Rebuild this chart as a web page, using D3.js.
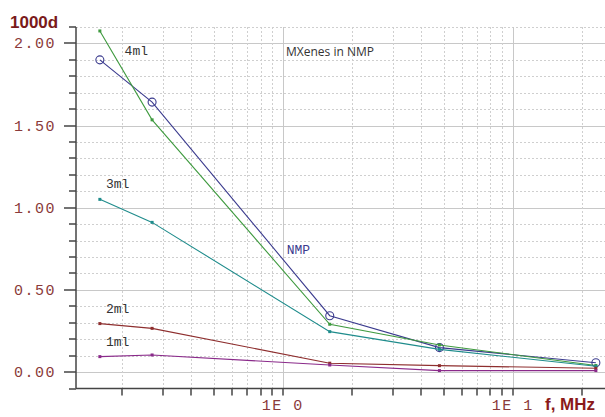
<!DOCTYPE html>
<meta charset="utf-8">
<html>
  <style>
    body, html{ margin: 0; background: #fff;}
    .grid line{ stroke: #cfcfcf; stroke-width: 1; stroke-dasharray: 2,2; }
    .grid line.major{ stroke: #c8c8c8; stroke-dasharray: none; }
    .axis line, .axis path{ stroke: #444; stroke-width: 1.5; fill: none; }
    .ticklab{ font-family: "Liberation Mono", monospace; font-size: 15px; fill: #8b3a3a; letter-spacing: 1.5px; }
    .lab{ font-family: "Liberation Mono", monospace; font-size: 13px; fill: #333; }
    .series{ fill: none; stroke-width: 1.1; }
  </style>
  <body>
    <svg></svg>
    <script src="https://cdn.jsdelivr.net/npm/d3@7"></script>
    <script>
var freq = [0.16, 0.27, 1.6, 4.8, 23]
var nmp  = [1.90, 1.643, 0.343, 0.149, 0.057]
var ml4  = [2.076, 1.535, 0.291, 0.165, 0.04]
var ml3  = [1.051, 0.911, 0.246, 0.138, 0.035]
var ml2  = [0.295, 0.266, 0.054, 0.039, 0.023]
var ml1  = [0.094, 0.104, 0.043, 0.009, 0.009]
var yTicks = [0, 0.5, 1, 1.5, 2]
var yTickLabels = ['0.00', '0.50', '1.00', '1.50', '2.00']
var xTicks = [1, 10]
var xTickLabels = ['1E 0', '1E 1']

var w = 605, h = 417
  , svg = d3.select('svg').attr('width', w).attr('height', h)
  , pL = 76, pR = 605, pT = 27, pB = 388.5

var x = d3.scaleLog().domain([0.126, 25.2]).range([pL, pR])
  , y = d3.scaleLinear().domain([-0.1, 2.1]).range([pB, pT])

// minor positions
var xMinor = [0.2,0.3,0.4,0.5,0.6,0.7,0.8,0.9,1,2,3,4,5,6,7,8,9,10,20]
  , yMinor = d3.range(-1, 22).map(function(d){ return d / 10 })
  , isMajorY = function(v){ return yTicks.some(function(t){ return Math.abs(t - v) < 1e-6 }) }

var grid = svg.append('g').attr('class', 'grid')
grid.selectAll('.gy').data(yMinor.filter(function(v){ return v > -0.05 })).enter().append('line')
  .attr('class', function(d){ return isMajorY(d) ? 'major' : '' })
  .attr('x1', pL).attr('x2', pR)
  .attr('y1', function(d){ return Math.round(y(d)) + 0.5 })
  .attr('y2', function(d){ return Math.round(y(d)) + 0.5 })
grid.selectAll('.gx').data(xMinor).enter().append('line')
  .attr('class', function(d){ return xTicks.indexOf(d) >= 0 ? 'major' : '' })
  .attr('y1', pT).attr('y2', pB)
  .attr('x1', function(d){ return Math.round(x(d)) + 0.5 })
  .attr('x2', function(d){ return Math.round(x(d)) + 0.5 })

// axes
var ax = svg.append('g').attr('class', 'axis')
ax.append('line').attr('x1', pL).attr('x2', pL).attr('y1', pT).attr('y2', pB)
ax.append('line').attr('x1', pL).attr('x2', pR).attr('y1', pB).attr('y2', pB)
ax.selectAll('.ty').data(yMinor).enter().append('line')
  .attr('x1', function(d){ return isMajorY(d) ? pL - 12 : pL - 7 }).attr('x2', pL)
  .attr('y1', function(d){ return Math.round(y(d)) }).attr('y2', function(d){ return Math.round(y(d)) })
ax.selectAll('.tx').data(xMinor).enter().append('line')
  .attr('y1', pB).attr('y2', pB + 7)
  .attr('x1', function(d){ return Math.round(x(d)) }).attr('x2', function(d){ return Math.round(x(d)) })

svg.selectAll('.yl').data(yTicks).enter().append('text')
  .attr('class', 'ticklab').attr('text-anchor', 'end')
  .attr('x', 56).attr('y', function(d){ return y(d) + 5 })
  .text(function(d, i){ return yTickLabels[i] })
svg.selectAll('.xl').data(xTicks).enter().append('text')
  .attr('class', 'ticklab').attr('text-anchor', 'middle')
  .attr('x', function(d){ return x(d) }).attr('y', 410)
  .text(function(d, i){ return xTickLabels[i] })

svg.append('text').attr('x', 10).attr('y', 28)
  .style('font', 'bold 17px "Liberation Sans", Arial, sans-serif').style('fill', '#7a1a1a')
  .text('1000d')
svg.append('text').attr('x', 545).attr('y', 410)
  .style('font', 'bold 17px "Liberation Sans", Arial, sans-serif').style('fill', '#8b1a1a')
  .text('f, MHz')
svg.append('text').attr('x', 286).attr('y', 56)
  .style('font', '12px "Open Sans", sans-serif').style('fill', '#333')
  .text('MXenes in NMP')

// series
var series = [
  { name: 'NMP', vals: nmp, color: '#3b3b8e', mark: 'circle' },
  { name: '4ml', vals: ml4, color: '#3f9a3f', mark: 'square' },
  { name: '3ml', vals: ml3, color: '#1f8c8c', mark: 'square' },
  { name: '2ml', vals: ml2, color: '#8e2e2e', mark: 'square' },
  { name: '1ml', vals: ml1, color: '#8a2a8a', mark: 'square' }
]
var line = d3.line().x(function(d){ return x(d[0]) }).y(function(d){ return y(d[1]) })

series.forEach(function(s){
  var pts = freq.map(function(f, i){ return [f, s.vals[i]] })
  var g = svg.append('g')
  g.append('path').attr('class', 'series').attr('d', line(pts)).attr('stroke', s.color)
  if (s.mark === 'circle'){
    g.selectAll('circle').data(pts).enter().append('circle')
      .attr('cx', function(d){ return x(d[0]) }).attr('cy', function(d){ return y(d[1]) })
      .attr('r', 4).attr('fill', 'none').attr('stroke', s.color).attr('stroke-width', 1.1)
  } else {
    g.selectAll('rect').data(pts).enter().append('rect')
      .attr('x', function(d){ return x(d[0]) - 1.5 }).attr('y', function(d){ return y(d[1]) - 1.5 })
      .attr('width', 3).attr('height', 3).attr('fill', s.color)
  }
})

// series labels
var labels = [
  { t: '4ml', x: 0.205, y: 55, c: '#333' },
  { t: '3ml', x: 0.17, y: 188, c: '#333' },
  { t: '2ml', x: 0.17, y: 313, c: '#333' },
  { t: '1ml', x: 0.17, y: 346, c: '#333' },
  { t: 'NMP', x: 1.04, y: 254, c: '#3b3b8e' }
]
svg.selectAll('.sl').data(labels).enter().append('text')
  .attr('class', 'lab').attr('x', function(d){ return x(d.x) }).attr('y', function(d){ return d.y })
  .style('fill', function(d){ return d.c })
  .text(function(d){ return d.t })
    </script>
  </body>
</html>
